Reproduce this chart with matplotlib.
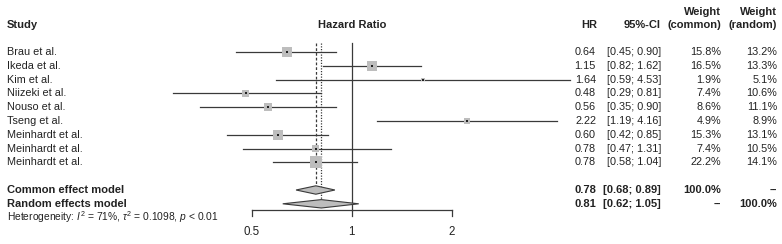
import matplotlib
matplotlib.use("Agg")
import matplotlib.pyplot as plt
import numpy as np

plt.rcParams['font.family'] = ['Liberation Sans', 'DejaVu Sans']
plt.rcParams['mathtext.fontset'] = 'custom'
plt.rcParams['mathtext.rm'] = 'Liberation Sans'
plt.rcParams['mathtext.it'] = 'Liberation Sans:italic'
plt.rcParams['mathtext.bf'] = 'Liberation Sans:bold'

# ---------------- data ----------------
studies = ["Brau et al.", "Ikeda et al.", "Kim et al.", "Niizeki et al.", "Nouso et al.",
           "Tseng et al.", "Meinhardt et al.", "Meinhardt et al.", "Meinhardt et al."]
hr = [0.64, 1.15, 1.64, 0.48, 0.56, 2.22, 0.60, 0.78, 0.78]
ci_low = [0.45, 0.82, 0.59, 0.29, 0.35, 1.19, 0.42, 0.47, 0.58]
ci_high = [0.90, 1.62, 4.53, 0.81, 0.90, 4.16, 0.85, 1.31, 1.04]
w_common = [15.8, 16.5, 1.9, 7.4, 8.6, 4.9, 15.3, 7.4, 22.2]
w_random = [13.2, 13.3, 5.1, 10.6, 11.1, 8.9, 13.1, 10.5, 14.1]

common_est, common_lo, common_hi = 0.78, 0.68, 0.89
random_est, random_lo, random_hi = 0.81, 0.62, 1.05
ticks = [0.5, 1, 2]
tick_labels = ["0.5", "1", "2"]

# ---------------- layout ----------------
W, H = 782, 244
fig = plt.figure(figsize=(W / 100, H / 100), dpi=100)
ax = fig.add_axes([0, 0, 1, 1])
ax.set_xscale('log', base=2)
x0_px, px_per_log2 = 351.7, 100.0
ax.set_xlim(2 ** ((0 - x0_px) / px_per_log2), 2 ** ((W - x0_px) / px_per_log2))
row0_px, row_h = 52.0, 13.8
ax.set_ylim((H - row0_px) / row_h, (0 - row0_px) / row_h)
ax.axis('off')

tr = ax.get_yaxis_transform()  # x axes-fraction, y data
def fx(px):
    return px / W

fs = 7.8
line_col = '#3a3a3a'
sq_col = '#bdbdbd'
txt_col = '#222222'

n = len(studies)
rows = np.arange(n)
r_common = n + 1
r_random = n + 2
axis_row = (210 - row0_px) / row_h
dh = 4.2 / row_h

# reference line at 1
ax.plot([1, 1], [(43 - row0_px) / row_h, axis_row], color=line_col, lw=0.9, zorder=1)
# common/random lines
ax.plot([common_est, common_est], [(43 - row0_px) / row_h, r_common - dh],
        color=line_col, lw=0.9, ls=(0, (2.2, 1.6)), zorder=1)
ax.plot([random_est, random_est], [(43 - row0_px) / row_h, r_random - dh],
        color=line_col, lw=0.9, ls=(0, (1.0, 1.2)), zorder=1)

# CI lines
for i in range(n):
    ax.plot([ci_low[i], ci_high[i]], [rows[i], rows[i]], color=line_col, lw=0.9, zorder=2)
# squares
sides_px = 12.0 * np.sqrt(np.array(w_common) / max(w_common))
ax.scatter(hr, rows, s=(sides_px * 0.72) ** 2, marker='s', color=sq_col, lw=0, zorder=3)
ax.scatter(hr, rows, s=3.0, marker='s', color='#222222', lw=0, zorder=4)

# diamonds
for est, lo, hi, r in [(common_est, common_lo, common_hi, r_common),
                       (random_est, random_lo, random_hi, r_random)]:
    ax.fill([lo, est, hi, est], [r, r - dh, r, r + dh], facecolor=sq_col,
            edgecolor=line_col, lw=0.8, zorder=3)

# x axis
ax.plot([ticks[0], ticks[-1]], [axis_row, axis_row], color=line_col, lw=0.9)
tick_len = 6 / row_h
for t, lab in zip(ticks, tick_labels):
    ax.plot([t, t], [axis_row, axis_row + tick_len], color=line_col, lw=0.9)
    ax.text(t, (232 - row0_px) / row_h, lab, ha='center', va='center', fontsize=fs + 0.5, color=txt_col)

# headers
hdr_row = (25 - row0_px) / row_h
hdr_row2 = (12 - row0_px) / row_h
hb = dict(va='center', fontsize=fs + 0.2, fontweight='bold', color=txt_col)
ax.text(fx(7), hdr_row, "Study", transform=tr, ha='left', **hb)
ax.text(1, hdr_row, "Hazard Ratio", ha='center', **hb)
ax.text(fx(597), hdr_row, "HR", transform=tr, ha='right', **hb)
ax.text(fx(661), hdr_row, "95%-CI", transform=tr, ha='right', **hb)
ax.text(fx(721), hdr_row, "(common)", transform=tr, ha='right', **hb)
ax.text(fx(777), hdr_row, "(random)", transform=tr, ha='right', **hb)
ax.text(fx(721), hdr_row2, "Weight", transform=tr, ha='right', **hb)
ax.text(fx(777), hdr_row2, "Weight", transform=tr, ha='right', **hb)

# study rows
tn = dict(va='center', fontsize=fs, color=txt_col)
for i in range(n):
    r = rows[i]
    ax.text(fx(7), r, studies[i], transform=tr, ha='left', **tn)
    ax.text(fx(596), r, f"{hr[i]:.2f}", transform=tr, ha='right', **tn)
    ax.text(fx(661), r, f"[{ci_low[i]:.2f}; {ci_high[i]:.2f}]", transform=tr, ha='right', **tn)
    ax.text(fx(721), r, f"{w_common[i]:.1f}%", transform=tr, ha='right', **tn)
    ax.text(fx(777), r, f"{w_random[i]:.1f}%", transform=tr, ha='right', **tn)

# summary rows
for lab, est, lo, hi, wc, wr, r in [("Common effect model", common_est, common_lo, common_hi, "100.0%", "--", r_common),
                                    ("Random effects model", random_est, random_lo, random_hi, "--", "100.0%", r_random)]:
    ax.text(fx(7), r, lab, transform=tr, ha='left', **hb)
    ax.text(fx(596), r, f"{est:.2f}", transform=tr, ha='right', **hb)
    ax.text(fx(661), r, f"[{lo:.2f}; {hi:.2f}]", transform=tr, ha='right', **hb)
    ax.text(fx(721), r, wc, transform=tr, ha='right', **hb)
    ax.text(fx(777), r, wr, transform=tr, ha='right', **hb)

ax.text(fx(7), (217 - row0_px) / row_h,
        r"Heterogeneity: $I^2$ = 71%, $\tau^2$ = 0.1098, $p$ < 0.01",
        transform=tr, ha='left', va='center', fontsize=fs - 0.4, color=txt_col)

fig.savefig("out.png", dpi=100)
